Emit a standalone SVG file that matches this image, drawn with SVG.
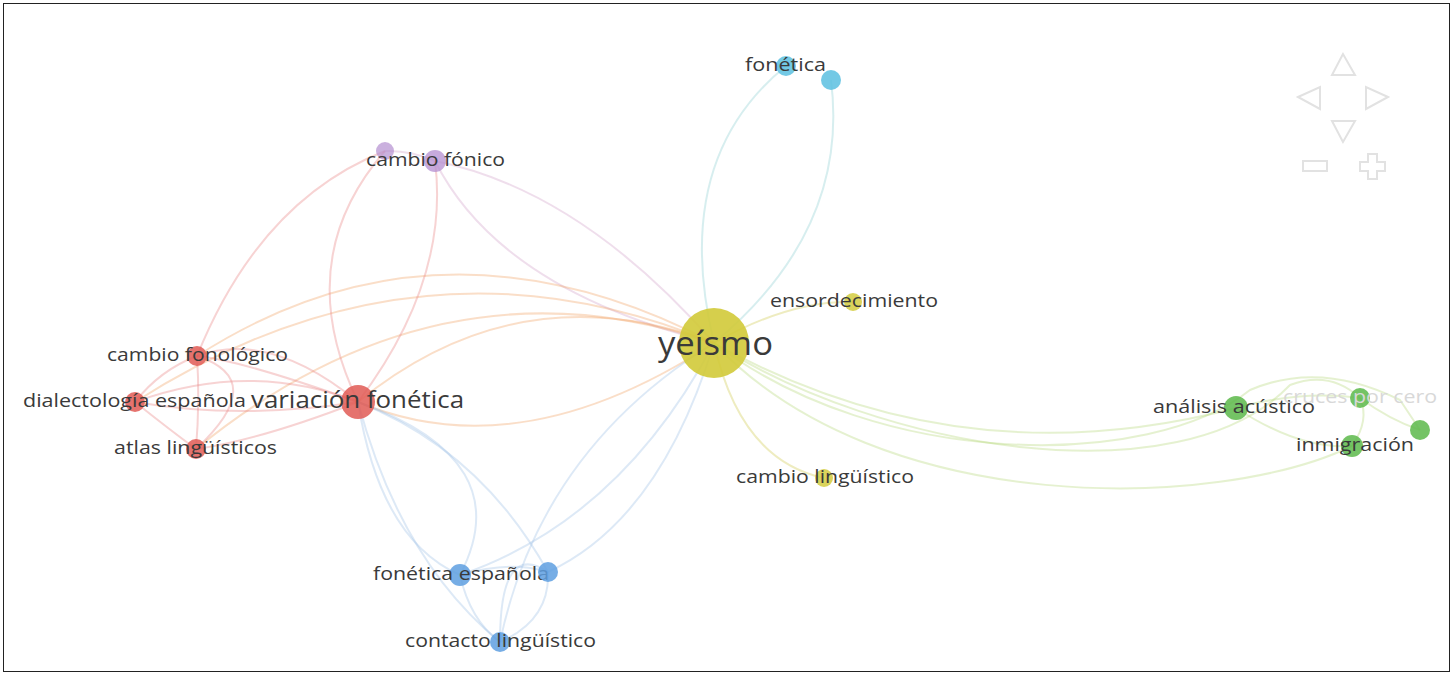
<svg xmlns="http://www.w3.org/2000/svg" width="1454" height="676" viewBox="0 0 1454 676">
<style>
.lbl{font-family:"Open Sans","Liberation Sans",sans-serif;font-size:18px;fill:#3a3a3a;text-anchor:middle}
.e{fill:none;stroke-width:2;stroke-opacity:0.35}
.y{stroke:#cfc84a}.o{stroke:#f0a060}.r{stroke:#e88080}.p{stroke:#d0a0c8}.c{stroke:#8ccfd0}.b{stroke:#9ec0e6}.g{stroke:#b4d878}
.nav{fill:none;stroke:#e2e2e2;stroke-width:2}
</style>
<rect x="3.5" y="3.5" width="1446" height="668" fill="#fff" stroke="#222" stroke-width="1"/>
<g id="connectors">
<path class="e c" d="M714,343 Q670,160 786,66"/>
<path class="e c" d="M714,343 Q850,230 831,80"/>
<path class="e p" d="M714,343 Q580,190 435,161"/>
<path class="e p" d="M714,343 Q500,290 435,161"/>
<path class="e o" d="M714,343 Q520,470 358,402"/>
<path class="e o" d="M714,343 Q440,200 197,356"/>
<path class="e o" d="M714,343 Q420,220 135,402"/>
<path class="e o" d="M714,343 Q440,250 196,449"/>
<path class="e o" d="M714,343 Q520,270 358,402"/>
<path class="e y" d="M714,343 Q790,300 853,302"/>
<path class="e y" d="M714,343 Q740,460 824,478"/>
<path class="e g" d="M714,343 Q960,480 1236,408"/>
<path class="e g" d="M714,343 C880,450 1180,500 1290,385 Q1330,370 1360,398"/>
<path class="e g" d="M714,343 C880,520 1220,510 1352,446"/>
<path class="e g" d="M714,343 C880,470 1150,470 1250,390 Q1320,360 1400,400 L1420,430"/>
<path class="e b" d="M714,343 Q620,520 460,575"/>
<path class="e b" d="M714,343 Q660,520 548,572"/>
<path class="e b" d="M714,343 Q540,450 500,642"/>
<path class="e r" d="M358,402 Q450,280 435,161"/>
<path class="e r" d="M358,402 Q290,260 385,151"/>
<path class="e r" d="M197,356 Q260,200 385,151"/>
<path class="e p" d="M385,151 Q410,150 435,161"/>
<path class="e r" d="M358,402 Q270,330 197,356"/>
<path class="e r" d="M358,402 Q250,360 135,402"/>
<path class="e r" d="M358,402 Q260,440 196,449"/>
<path class="e r" d="M358,402 Q240,420 135,402"/>
<path class="e r" d="M197,356 Q160,370 135,402"/>
<path class="e r" d="M197,356 Q200,400 196,449"/>
<path class="e r" d="M135,402 Q170,430 196,449"/>
<path class="e r" d="M197,356 Q270,380 196,449"/>
<path class="e r" d="M197,356 Q240,360 358,402"/>
<path class="e b" d="M358,402 Q380,540 460,575"/>
<path class="e b" d="M358,402 Q480,450 548,572"/>
<path class="e b" d="M358,402 Q400,560 500,642"/>
<path class="e b" d="M358,402 Q520,460 460,575"/>
<path class="e b" d="M460,575 Q470,620 500,642"/>
<path class="e b" d="M548,572 Q550,620 500,642"/>
<path class="e b" d="M460,575 Q510,560 548,572"/>
<path class="e b" d="M548,572 Q500,540 500,642"/>
<path class="e g" d="M1236,408 Q1300,450 1352,446"/>
<path class="e g" d="M1236,408 Q1300,390 1360,398"/>
<path class="e g" d="M1360,398 Q1370,420 1352,446"/>
<path class="e g" d="M1360,398 Q1390,420 1420,430"/>
</g>
<g id="nav">
<polygon class="nav" points="1343,54 1332,75 1355,75"/>
<polygon class="nav" points="1298,97 1320,87 1320,109"/>
<polygon class="nav" points="1388,97 1366,87 1366,109"/>
<polygon class="nav" points="1343,142 1332,121 1355,121"/>
<rect class="nav" x="1303" y="161" width="24" height="10"/>
<path class="nav" d="M1368,154 h9 v8 h8 v9 h-8 v8 h-9 v-8 h-8 v-9 h8 z"/>
</g>
<g id="n-fonetica2"><circle cx="831" cy="80" r="10" fill="#5bbfe0" fill-opacity="0.85"/></g>
<g id="n-fonetica"><circle cx="786" cy="66" r="10" fill="#5bbfe0" fill-opacity="0.85"/><text class="lbl" x="785.5" y="71" textLength="81" lengthAdjust="spacingAndGlyphs">fonética</text></g>
<g id="n-cambio-fonico2"><circle cx="385" cy="151" r="9" fill="#b48ed0" fill-opacity="0.7"/></g>
<g id="n-cambio-fonico"><circle cx="435" cy="161" r="11" fill="#b48ed0" fill-opacity="0.75"/><text class="lbl" x="435.5" y="166" textLength="139" lengthAdjust="spacingAndGlyphs">cambio fónico</text></g>
<g id="n-ensordecimiento"><circle cx="853" cy="302" r="9" fill="#d4cd40" fill-opacity="0.85"/><text class="lbl" x="854" y="307" textLength="168" lengthAdjust="spacingAndGlyphs">ensordecimiento</text></g>
<g id="n-cambio-linguistico"><circle cx="824" cy="478" r="9" fill="#d4cd40" fill-opacity="0.85"/><text class="lbl" x="825" y="483" textLength="178" lengthAdjust="spacingAndGlyphs">cambio lingüístico</text></g>
<g id="n-cambio-fonologico"><circle cx="197" cy="356" r="10" fill="#e05a55" fill-opacity="0.85"/><text class="lbl" x="197.5" y="361" textLength="181" lengthAdjust="spacingAndGlyphs">cambio fonológico</text></g>
<g id="n-dialectologia"><circle cx="135" cy="402" r="10" fill="#e05a55" fill-opacity="0.85"/><text class="lbl" x="134.5" y="407" textLength="223" lengthAdjust="spacingAndGlyphs">dialectología española</text></g>
<g id="n-atlas"><circle cx="196" cy="449" r="10" fill="#e05a55" fill-opacity="0.85"/><text class="lbl" x="195.5" y="454" textLength="163" lengthAdjust="spacingAndGlyphs">atlas lingüísticos</text></g>
<g id="n-variacion"><circle cx="358" cy="402" r="17" fill="#e05a55" fill-opacity="0.85"/><text class="lbl" x="357.5" y="408" style="font-size:23px" textLength="213" lengthAdjust="spacingAndGlyphs">variación fonética</text></g>
<g id="n-fonetica-espanola"><circle cx="460" cy="575" r="11" fill="#5e9fe0" fill-opacity="0.85"/><text class="lbl" x="461" y="580" textLength="176" lengthAdjust="spacingAndGlyphs">fonética española</text></g>
<g id="n-blue2"><circle cx="548" cy="572" r="10" fill="#5e9fe0" fill-opacity="0.85"/></g>
<g id="n-contacto"><circle cx="500" cy="642" r="10" fill="#5e9fe0" fill-opacity="0.85"/><text class="lbl" x="500.5" y="647" textLength="191" lengthAdjust="spacingAndGlyphs">contacto lingüístico</text></g>
<g id="n-analisis"><circle cx="1236" cy="408" r="12" fill="#5cb84a" fill-opacity="0.85"/><text class="lbl" x="1234" y="413" textLength="162" lengthAdjust="spacingAndGlyphs">análisis acústico</text></g>
<g id="n-cruces"><circle cx="1360" cy="398" r="10" fill="#5cb84a" fill-opacity="0.85"/><text class="lbl" x="1360" y="403" style="fill:#d8d8d8" textLength="154" lengthAdjust="spacingAndGlyphs">cruces por cero</text></g>
<g id="n-green2"><circle cx="1420" cy="430" r="10" fill="#5cb84a" fill-opacity="0.85"/></g>
<g id="n-inmigracion"><circle cx="1352" cy="446" r="11" fill="#5cb84a" fill-opacity="0.85"/><text class="lbl" x="1355" y="451" textLength="118" lengthAdjust="spacingAndGlyphs">inmigración</text></g>
<g id="n-yeismo"><circle cx="714" cy="343" r="35" fill="#d2ca38" fill-opacity="0.9"/><text class="lbl" x="715.5" y="355" style="font-size:33px" textLength="115" lengthAdjust="spacingAndGlyphs">yeísmo</text></g>
</svg>
